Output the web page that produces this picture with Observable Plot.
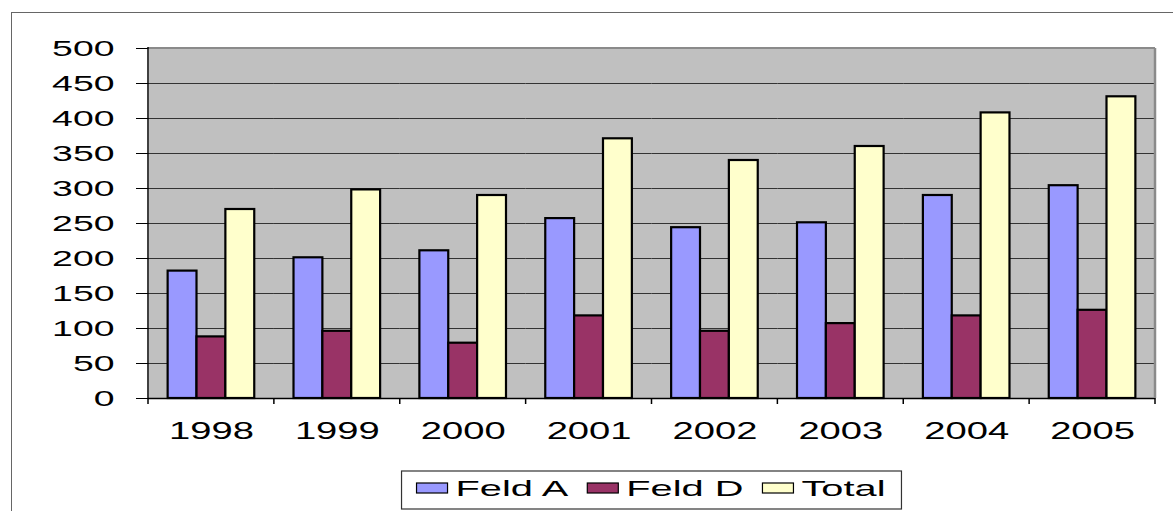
<!DOCTYPE html>
<html><head><meta charset="utf-8">
<script src="https://cdn.jsdelivr.net/npm/d3@7"></script>
<script src="https://cdn.jsdelivr.net/npm/@observablehq/plot@0.6"></script>
<style>
body{margin:0;background:#fff;font-family:"Liberation Sans",Arial,sans-serif;}
#wrap{position:relative;width:1173px;height:511px;overflow:hidden;background:#fff;}
#outer{position:absolute;left:11px;top:12px;width:1300px;height:700px;border-left:1.5px solid #666;border-top:1.5px solid #666;z-index:2;pointer-events:none;}
#chart svg{display:block;}
</style></head><body>
<div id="wrap"><div id="chart"></div><div id="outer"></div></div>
<script>
const years = ["1998","1999","2000","2001","2002","2003","2004","2005"];
const series = ["Feld A","Feld D","Total"];
const feldA = [182,201,211,257,244,251,290,304];
const feldD = [88,96,79,118,96,107,118,126];
const total = [270,298,290,371,340,360,408,431];
const colors = ["#9999ff","#993366","#ffffcc"];
const yTicks = [0,50,100,150,200,250,300,350,400,450,500];

const values = [feldA, feldD, total];
const data = years.flatMap((year, i) => series.map((s, k) => ({year, series: s, value: values[k][i]})));

const FONT = "Liberation Sans, Arial, sans-serif";
const chart = Plot.plot({
  width: 1173,
  height: 465,
  marginLeft: 148,
  marginRight: 18,
  marginTop: 48,
  marginBottom: 67,
  style: {background: "transparent", fontFamily: FONT, color: "black"},
  fx: {domain: years, padding: 0, round: false},
  x: {domain: series, paddingInner: 0, paddingOuter: 0.68, round: false, axis: null},
  y: {domain: [0, 500]},
  color: {domain: series, range: colors},
  marks: [
    Plot.frame({fill: "#c0c0c0", stroke: "none", shapeRendering: "crispEdges"}),
    Plot.gridY(yTicks.filter(t => t > 0 && t < 500), {stroke: "#333", strokeOpacity: 1, strokeWidth: 1}),
    Plot.barY(data, {fx: "year", x: "series", y: "value", fill: "series", stroke: "black", strokeWidth: 2.2}),
    Plot.ruleY([0], {stroke: "black", strokeWidth: 1.5}),
    Plot.axisY({ticks: yTicks, tickSize: 12, tickPadding: 22, fontSize: 22, label: null, fontFamily: FONT}),
    Plot.axisFx({anchor: "bottom", tickSize: 0, tickPadding: 24, fontSize: 23, label: null, fontFamily: FONT})
  ]
});
document.getElementById("chart").appendChild(chart);

// stretch tick labels horizontally (as in the reference rendering)
function stretch(sel, sx) {
  sel.each(function() {
    const t = d3.select(this);
    const tr = t.attr("transform");
    if (tr) t.attr("transform", tr + ` scale(${sx},1)`);
    else {
      const x = +t.attr("x") || 0, y = +t.attr("y") || 0;
      t.attr("x", null).attr("y", null).attr("transform", `translate(${x},${y}) scale(${sx},1)`);
    }
  });
}
const svg = d3.select(chart);
stretch(svg.selectAll('g[aria-label="y-axis tick label"] text'), 1.7);
stretch(svg.selectAll('g[aria-label="fx-axis tick label"] text'), 1.66);

// category boundary ticks, left axis line and plot-area border
const fx = chart.scale("fx"), y = chart.scale("y");
const bounds = years.map(d => fx.apply(d)).concat([fx.apply(years[years.length - 1]) + fx.bandwidth]);
const y0 = y.apply(0), yTop = y.apply(500);
const xL = bounds[0], xR = bounds[bounds.length - 1];
const g = svg.append("g");
g.append("line").attr("x1", xL).attr("x2", xR).attr("y1", yTop).attr("y2", yTop).attr("stroke", "#8a8a8a").attr("stroke-width", 2);
g.append("line").attr("x1", xR).attr("x2", xR).attr("y1", yTop).attr("y2", y0).attr("stroke", "#8a8a8a").attr("stroke-width", 2.5);
g.append("line").attr("x1", xL).attr("x2", xL).attr("y1", yTop - 1).attr("y2", y0).attr("stroke", "black").attr("stroke-width", 1.5);
g.selectAll(".bt").data(bounds).join("line").attr("x1", d => d).attr("x2", d => d)
  .attr("y1", y0).attr("y2", y0 + 6).attr("stroke", "black").attr("stroke-width", 1.5);

// legend
const leg = d3.select("#chart").append("svg").attr("width", 1173).attr("height", 46).style("display", "block");
const LS = 1.85;
const items = leg.append("g");
let cx = 15;
series.forEach((s, k) => {
  const it = items.append("g");
  it.append("rect").attr("x", cx).attr("y", 18).attr("width", 31).attr("height", 10)
    .attr("fill", colors[k]).attr("stroke", "black").attr("stroke-width", 1.2);
  cx += 31 + 8;
  const tx = it.append("text").text(s).attr("font-family", FONT).attr("font-size", 21.5)
    .attr("transform", `translate(${cx},31) scale(${LS},1)`);
  cx += tx.node().getComputedTextLength() * LS + 19;
});
const boxW = cx - 19 + 16;
const center = (xL + xR) / 2;
const bx = center - boxW / 2;
items.attr("transform", `translate(${bx},0)`);
leg.insert("rect", ":first-child").attr("x", bx).attr("y", 6).attr("width", boxW).attr("height", 38)
  .attr("fill", "white").attr("stroke", "#333").attr("stroke-width", 1.2);
</script>
</body></html>
